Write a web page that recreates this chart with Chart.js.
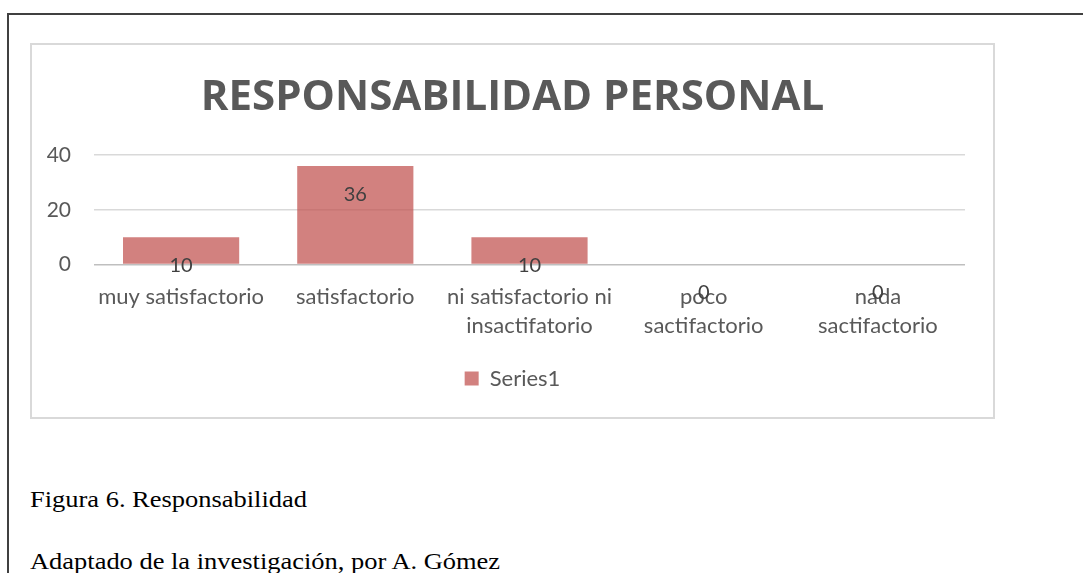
<!DOCTYPE html>
<html>
<head>
<meta charset="utf-8">
<script src="https://cdn.jsdelivr.net/npm/chart.js@4"></script>
<style>
  html, body { margin: 0; padding: 0; background: #fff; width: 1083px; height: 573px; overflow: hidden; position: relative; }
  .frameTop { position: absolute; left: 7px; top: 13px; width: 1076px; height: 2px; background: #404040; }
  .frameLeft { position: absolute; left: 7px; top: 13px; width: 2px; height: 560px; background: #404040; }
  #wrap { position: absolute; left: 30px; top: 43px; width: 965px; height: 376px; box-sizing: border-box; border: 2px solid #d9d9d9; background: #fff; }
  #wrap canvas { display: block; }
  .cap { position: absolute; left: 30px; font-family: "Liberation Serif", "Times New Roman", serif; font-size: 23px; line-height: 1; color: #000; white-space: nowrap; transform: scaleX(1.15); transform-origin: 0 0; }
</style>
</head>
<body>
<div class="frameTop"></div>
<div class="frameLeft"></div>
<div id="wrap"><canvas id="c" width="961" height="372"></canvas></div>
<div class="cap" style="top:488px">Figura 6. Responsabilidad</div>
<div class="cap" style="top:550px">Adaptado de la investigación, por A. Gómez</div>
<script>
const categories = [
  "muy satisfactorio",
  "satisfactorio",
  ["ni satisfactorio ni", "insactifatorio"],
  ["poco", "sactifactorio"],
  ["nada", "sactifactorio"]
];
const series1 = [10, 36, 10, 0, 0];
const seriesName = "Series1";
const chartTitle = "RESPONSABILIDAD PERSONAL";
const yTicks = [0, 20, 40];

const dataLabels = {
  id: 'dataLabels',
  afterDatasetsDraw(chart) {
    const ctx = chart.ctx;
    const meta = chart.getDatasetMeta(0);
    ctx.save();
    ctx.font = '20px Lato';
    ctx.fillStyle = '#404040';
    ctx.textAlign = 'center';
    ctx.textBaseline = 'middle';
    meta.data.forEach((bar, i) => {
      ctx.fillText(String(series1[i]), bar.x, bar.y + 28.5);
    });
    ctx.restore();
  }
};

function build() {
  new Chart(document.getElementById('c'), {
    type: 'bar',
    data: {
      labels: categories,
      datasets: [{
        label: seriesName,
        data: series1,
        backgroundColor: 'rgba(192,80,77,0.72)',
        borderWidth: 0,
        barPercentage: 0.667,
        categoryPercentage: 1.0
      }]
    },
    options: {
      responsive: false,
      animation: false,
      events: [],
      layout: { padding: { left: 0, right: 0, top: 0, bottom: 17.5 } },
      plugins: {
        title: {
          display: true,
          text: chartTitle,
          color: '#595959',
          font: { family: 'Open Sans', size: 42, weight: 'bold', lineHeight: 1.2 },
          padding: { top: 27.4, bottom: 32.2 }
        },
        legend: {
          display: true,
          position: 'bottom',
          labels: {
            color: '#595959',
            font: { family: 'Lato', size: 22 },
            boxWidth: 14,
            boxHeight: 14,
            padding: 10
          }
        },
        tooltip: { enabled: false }
      },
      scales: {
        x: {
          grid: { display: false, drawTicks: false },
          border: { display: false },
          ticks: {
            color: '#595959',
            font: { family: 'Lato', size: 22, lineHeight: 1.36 },
            padding: 17,
            maxRotation: 0,
            autoSkip: false
          },
          afterFit(scale) { scale.height = 93; }
        },
        y: {
          min: 0,
          max: 40,
          afterBuildTicks(scale) { scale.ticks = yTicks.map(v => ({ value: v })); },
          grid: {
            drawTicks: false,
            color: ctx => (ctx.tick && ctx.tick.value === 0) ? '#bfbfbf' : '#d9d9d9',
            lineWidth: 1.5
          },
          border: { display: false },
          ticks: {
            color: '#595959',
            font: { family: 'Lato', size: 21 },
            padding: 23
          },
          afterFit(scale) { scale.width = 62; }
        },
        yRight: {
          position: 'right',
          min: 0,
          max: 40,
          grid: { display: false, drawTicks: false },
          border: { display: false },
          ticks: { display: false },
          afterFit(scale) { scale.width = 28; }
        }
      }
    },
    plugins: [dataLabels]
  });
}

const fontLoads = [
  document.fonts.load('22px Lato'),
  document.fonts.load('20px Lato'),
  document.fonts.load('bold 42px "Open Sans"')
];
Promise.all(fontLoads).then(build, build);
</script>
</body>
</html>
